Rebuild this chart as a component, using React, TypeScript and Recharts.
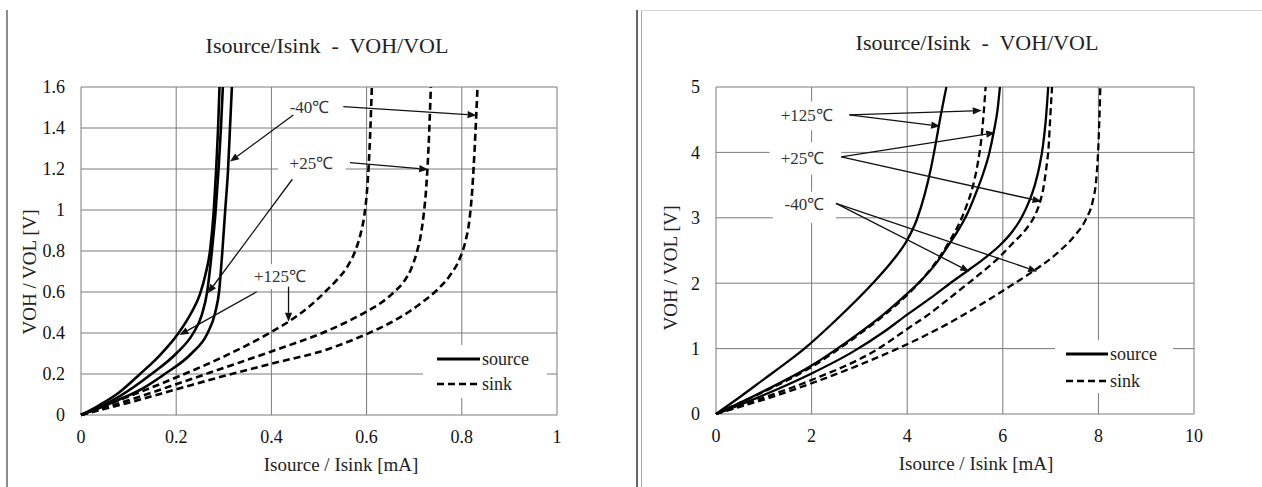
import React from 'react';
import {
  LineChart,
  Line,
  XAxis,
  YAxis,
  CartesianGrid,
  ReferenceArea,
  ReferenceDot,
  ReferenceLine,
} from 'recharts';

type Pt = [number, number];

const FONT = '"Liberation Serif", "Times New Roman", serif';

// ---- left chart: 0 .. 1 mA, 0 .. 1.6 V ----
const lowXTicks = [0, 0.2, 0.4, 0.6, 0.8, 1];
const lowYTicks = [0, 0.2, 0.4, 0.6, 0.8, 1, 1.2, 1.4, 1.6];

const lowSource125: Pt[] = [
  [0, 0], [0.04, 0.05], [0.08, 0.11], [0.124, 0.2], [0.165, 0.29], [0.205, 0.4],
  [0.232, 0.5], [0.25, 0.59], [0.262, 0.69], [0.271, 0.8], [0.279, 1.0],
  [0.284, 1.2], [0.288, 1.4], [0.291, 1.6],
];
const lowSource25: Pt[] = [
  [0, 0], [0.04, 0.04], [0.08, 0.09], [0.148, 0.2], [0.2, 0.3], [0.236, 0.4],
  [0.254, 0.49], [0.265, 0.6], [0.275, 0.8], [0.283, 1.0], [0.289, 1.2],
  [0.294, 1.4], [0.298, 1.6],
];
const lowSourceM40: Pt[] = [
  [0, 0], [0.04, 0.035], [0.08, 0.075], [0.13, 0.13], [0.176, 0.2], [0.232, 0.3],
  [0.266, 0.4], [0.282, 0.5], [0.29, 0.6], [0.297, 0.8], [0.303, 1.0],
  [0.309, 1.2], [0.313, 1.4], [0.317, 1.6],
];
const lowSink125: Pt[] = [
  [0, 0], [0.05, 0.045], [0.1, 0.09], [0.207, 0.19], [0.3, 0.285], [0.4, 0.405],
  [0.436, 0.455], [0.48, 0.53], [0.517, 0.61], [0.54, 0.665], [0.56, 0.725],
  [0.576, 0.8], [0.587, 0.88], [0.595, 0.97], [0.6, 1.07], [0.604, 1.2],
  [0.608, 1.4], [0.611, 1.6],
];
const lowSink25: Pt[] = [
  [0, 0], [0.05, 0.035], [0.1, 0.072], [0.2, 0.15], [0.3, 0.23], [0.4, 0.31],
  [0.517, 0.41], [0.555, 0.45], [0.6, 0.505], [0.632, 0.55], [0.658, 0.6],
  [0.678, 0.65], [0.693, 0.71], [0.705, 0.79], [0.714, 0.88], [0.72, 0.98],
  [0.725, 1.1], [0.73, 1.3], [0.735, 1.6],
];
const lowSinkM40: Pt[] = [
  [0, 0], [0.05, 0.03], [0.1, 0.06], [0.2, 0.125], [0.3, 0.19], [0.4, 0.25],
  [0.517, 0.32], [0.6, 0.395], [0.65, 0.45], [0.69, 0.505], [0.72, 0.555],
  [0.748, 0.61], [0.775, 0.68], [0.795, 0.76], [0.808, 0.85], [0.816, 0.95],
  [0.822, 1.1], [0.827, 1.3], [0.833, 1.6],
];

// ---- right chart: 0 .. 10 mA, 0 .. 5 V ----
const highXTicks = [0, 2, 4, 6, 8, 10];
const highYTicks = [0, 1, 2, 3, 4, 5];

const highSource125: Pt[] = [
  [0, 0], [0.5, 0.26], [1, 0.53], [1.5, 0.8], [1.85, 1.0], [2.5, 1.43],
  [3.28, 2.0], [3.7, 2.35], [4, 2.66], [4.2, 2.97], [4.37, 3.37], [4.5, 3.77],
  [4.6, 4.15], [4.69, 4.52], [4.77, 4.82], [4.82, 5],
];
const highSource25: Pt[] = [
  [0, 0], [0.5, 0.17], [1, 0.35], [2, 0.74], [2.5, 0.98], [3, 1.24], [3.5, 1.52],
  [4, 1.84], [4.3, 2.05], [4.6, 2.3], [4.9, 2.62], [5.1, 2.85], [5.25, 3.05],
  [5.45, 3.4], [5.6, 3.7], [5.72, 4.0], [5.82, 4.35], [5.89, 4.65], [5.94, 5],
];
const highSourceM40: Pt[] = [
  [0, 0], [0.5, 0.14], [1, 0.29], [2, 0.62], [2.86, 0.95], [3.5, 1.25], [4, 1.52],
  [4.5, 1.78], [4.9, 2.0], [5.3, 2.21], [5.65, 2.4], [5.94, 2.58], [6.2, 2.79],
  [6.39, 3.0], [6.55, 3.25], [6.67, 3.5], [6.77, 3.8], [6.84, 4.1], [6.9, 4.5],
  [6.95, 5],
];
const highSink125: Pt[] = [
  [0, 0], [0.5, 0.17], [1, 0.34], [2, 0.72], [2.5, 0.96], [3, 1.22], [3.5, 1.5],
  [4, 1.82], [4.3, 2.05], [4.6, 2.32], [4.9, 2.66], [5.1, 2.93], [5.25, 3.2],
  [5.38, 3.5], [5.48, 3.85], [5.55, 4.2], [5.6, 4.6], [5.64, 5],
];
const highSink25: Pt[] = [
  [0, 0], [0.5, 0.12], [1, 0.25], [2, 0.52], [3.4, 1.0], [4, 1.3], [4.5, 1.55],
  [4.9, 1.78], [5.45, 2.1], [5.9, 2.38], [6.22, 2.62], [6.5, 2.84], [6.66, 3.02],
  [6.77, 3.22], [6.85, 3.46], [6.91, 3.76], [6.96, 4.1], [6.99, 4.5], [7.03, 5],
];
const highSinkM40: Pt[] = [
  [0, 0], [0.5, 0.11], [1, 0.22], [2, 0.47], [3, 0.75], [3.8, 1.0], [4.9, 1.4],
  [5.6, 1.7], [6.25, 2.0], [6.67, 2.2], [7.2, 2.5], [7.52, 2.74], [7.74, 2.98],
  [7.88, 3.25], [7.95, 3.55], [7.99, 3.95], [8.02, 4.5], [8.04, 5],
];

interface Curve { name: string; pts: Pt[]; dashed: boolean }
interface Note { text: string; at: Pt; box: [number, number, number, number] }
interface Arrow { from: Pt; to: Pt }

const lowCurves: Curve[] = [
  { name: 'source +125', pts: lowSource125, dashed: false },
  { name: 'source +25', pts: lowSource25, dashed: false },
  { name: 'source -40', pts: lowSourceM40, dashed: false },
  { name: 'sink +125', pts: lowSink125, dashed: true },
  { name: 'sink +25', pts: lowSink25, dashed: true },
  { name: 'sink -40', pts: lowSinkM40, dashed: true },
];
const highCurves: Curve[] = [
  { name: 'source +125', pts: highSource125, dashed: false },
  { name: 'source +25', pts: highSource25, dashed: false },
  { name: 'source -40', pts: highSourceM40, dashed: false },
  { name: 'sink +125', pts: highSink125, dashed: true },
  { name: 'sink +25', pts: highSink25, dashed: true },
  { name: 'sink -40', pts: highSinkM40, dashed: true },
];

const lowNotes: Note[] = [
  { text: '-40℃', at: [0.48, 1.5], box: [0.405, 0.555, 1.43, 1.57] },
  { text: '+25℃', at: [0.484, 1.229], box: [0.414, 0.556, 1.16, 1.3] },
  { text: '+125℃', at: [0.418, 0.675], box: [0.338, 0.498, 0.615, 0.735] },
];
const lowArrows: Arrow[] = [
  { from: [0.446, 1.463], to: [0.313, 1.236] },
  { from: [0.551, 1.504], to: [0.831, 1.462] },
  { from: [0.444, 1.15], to: [0.2665, 0.594] },
  { from: [0.565, 1.231], to: [0.7295, 1.198] },
  { from: [0.369, 0.601], to: [0.207, 0.39] },
  { from: [0.436, 0.626], to: [0.436, 0.455] },
];

const highNotes: Note[] = [
  { text: '+125℃', at: [1.9, 4.56], box: [1.1, 2.7, 4.34, 4.78] },
  { text: '+25℃', at: [1.81, 3.91], box: [1.12, 2.62, 3.66, 4.16] },
  { text: '-40℃', at: [1.85, 3.2], box: [1.19, 2.51, 2.92, 3.4] },
];
const highArrows: Arrow[] = [
  { from: [2.79, 4.575], to: [5.56, 4.64] },
  { from: [2.79, 4.575], to: [4.69, 4.4] },
  { from: [2.62, 3.93], to: [5.84, 4.3] },
  { from: [2.62, 3.93], to: [6.81, 3.25] },
  { from: [2.51, 3.22], to: [5.3, 2.18] },
  { from: [2.51, 3.22], to: [6.72, 2.18] },
];

const toRows = (pts: Pt[]) => pts.map(([i, v]) => ({ i, v }));

const ArrowShape = (p: any) => {
  const { x1, y1, x2, y2 } = p;
  if ([x1, y1, x2, y2].some((n) => typeof n !== 'number')) return <g />;
  const ang = Math.atan2(y2 - y1, x2 - x1);
  const len = 9;
  const half = 3.6;
  const bx = x2 - len * Math.cos(ang);
  const by = y2 - len * Math.sin(ang);
  const ox = -Math.sin(ang) * half;
  const oy = Math.cos(ang) * half;
  return (
    <g>
      <line x1={x1} y1={y1} x2={bx} y2={by} stroke="#111" strokeWidth={1.3} />
      <polygon points={`${x2},${y2} ${bx + ox},${by + oy} ${bx - ox},${by - oy}`} fill="#111" />
    </g>
  );
};

const noteShape = (text: string) => (p: any) => (
  <text
    x={p.cx}
    y={p.cy}
    textAnchor="middle"
    dominantBaseline="central"
    fontFamily={FONT}
    fontSize={17}
    fill="#333"
  >
    {text}
  </text>
);

const tickStyle = { fill: '#111', fontSize: 18, fontFamily: FONT };

interface PanelProps {
  left: number;
  margin: { top: number; right: number; bottom: number; left: number };
  xDomain: [number, number];
  yDomain: [number, number];
  xTicks: number[];
  yTicks: number[];
  curves: Curve[];
  notes: Note[];
  arrows: Arrow[];
  lineW: number;
  legend: { left: number; top: number; w: number; h: number; x0: number; x1: number; r1: number; r2: number };
}

const Panel: React.FC<PanelProps> = ({
  left, margin, xDomain, yDomain, xTicks, yTicks, curves, notes, arrows, lineW, legend,
}) => {
  return (
    <div style={{ position: 'absolute', left, top: 0, width: 631, height: 487 }}>
      <LineChart width={631} height={487} margin={margin} style={{ fontFamily: FONT }}>
        <CartesianGrid stroke="#7a7a7a" strokeWidth={1} />
        <XAxis
          type="number"
          dataKey="i"
          domain={xDomain}
          ticks={xTicks}
          interval={0}
          axisLine={false}
          tickLine={false}
          tickMargin={9}
          height={30}
          fontSize={18}
          tick={tickStyle}
        />
        <YAxis
          type="number"
          dataKey="v"
          domain={yDomain}
          ticks={yTicks}
          interval={0}
          axisLine={false}
          tickLine={false}
          tickMargin={10}
          width={60}
          fontSize={18}
          tick={tickStyle}
        />
        {notes.map((n) => (
          <ReferenceArea
            key={'box' + n.text}
            x1={n.box[0]}
            x2={n.box[1]}
            y1={n.box[2]}
            y2={n.box[3]}
            fill="#fff"
            fillOpacity={1}
            stroke="none"
          />
        ))}
        {curves.map((c) => (
          <Line
            key={c.name}
            name={c.name}
            data={toRows(c.pts)}
            dataKey="v"
            type="monotone"
            stroke="#000"
            strokeWidth={lineW}
            strokeDasharray={c.dashed ? '7 4' : undefined}
            dot={false}
            activeDot={false}
            isAnimationActive={false}
          />
        ))}
        {arrows.map((a, k) => (
          <ReferenceLine
            key={'arrow' + k}
            segment={[{ x: a.from[0], y: a.from[1] }, { x: a.to[0], y: a.to[1] }]}
            shape={ArrowShape}
          />
        ))}
        {notes.map((n) => (
          <ReferenceDot key={'txt' + n.text} x={n.at[0]} y={n.at[1]} r={1} shape={noteShape(n.text)} />
        ))}
      </LineChart>
      <div
        style={{
          position: 'absolute',
          left: legend.left,
          top: legend.top,
          width: legend.w,
          height: legend.h,
          background: '#fff',
        }}
      >
        <svg width={legend.w} height={legend.h}>
          <line x1={legend.x0} x2={legend.x1} y1={legend.r1} y2={legend.r1} stroke="#000" strokeWidth={2.8} />
          <line
            x1={legend.x0}
            x2={legend.x1}
            y1={legend.r2}
            y2={legend.r2}
            stroke="#000"
            strokeWidth={2.6}
            strokeDasharray="7 4"
          />
          <text x={legend.x1 + 2} y={legend.r1} dominantBaseline="central" fontFamily={FONT} fontSize={18} fill="#222">
            source
          </text>
          <text x={legend.x1 + 2} y={legend.r2} dominantBaseline="central" fontFamily={FONT} fontSize={18} fill="#222">
            sink
          </text>
        </svg>
      </div>
    </div>
  );
};

const App: React.FC = () => {
  const title = 'Isource/Isink  -  VOH/VOL';
  return (
    <div style={{ position: 'absolute', left: 0, top: 0, width: 1262, height: 487, background: '#fff', overflow: 'hidden' }}>
      <style>{`.recharts-cartesian-axis-tick-value { font-family: ${FONT}; font-size: 18px; fill: #111; }`}</style>
      <div style={{ position: 'absolute', left: 6, top: 10, width: 1.5, height: 477, background: '#8c8c8c' }} />
      <div style={{ position: 'absolute', left: 636, top: 10, width: 1.5, height: 477, background: '#666' }} />
      <div style={{ position: 'absolute', left: 641, top: 10, width: 1, height: 477, background: '#aaa' }} />
      <div style={{ position: 'absolute', left: 641, top: 10, width: 621, height: 1, background: '#d4d4d4' }} />

      <Panel
        left={0}
        margin={{ top: 87, right: 74, bottom: 42, left: 21 }}
        xDomain={[0, 1]}
        yDomain={[0, 1.6]}
        xTicks={lowXTicks}
        yTicks={lowYTicks}
        curves={lowCurves}
        notes={lowNotes}
        arrows={lowArrows}
        lineW={2.6}
        legend={{ left: 423, top: 345, w: 124, h: 53, x0: 14, x1: 57, r1: 14, r2: 39 }}
      />
      <Panel
        left={631}
        margin={{ top: 87, right: 68, bottom: 43, left: 25 }}
        xDomain={[0, 10]}
        yDomain={[0, 5]}
        xTicks={highXTicks}
        yTicks={highYTicks}
        curves={highCurves}
        notes={highNotes}
        arrows={highArrows}
        lineW={2.3}
        legend={{ left: 424, top: 340, w: 118, h: 53, x0: 11, x1: 53, r1: 14, r2: 41 }}
      />

      <svg width={1262} height={487} style={{ position: 'absolute', left: 0, top: 0, pointerEvents: 'none' }}>
        <g fontFamily={FONT} fill="#222" textAnchor="middle">
          <text x={327} y={53} fontSize={22} xmlSpace="preserve">{title}</text>
          <text x={977} y={50} fontSize={22} xmlSpace="preserve">{title}</text>
          <text x={341} y={471} fontSize={19}>Isource / Isink [mA]</text>
          <text x={976} y={470} fontSize={19}>Isource / Isink [mA]</text>
          <text x={36} y={272} fontSize={19} transform="rotate(-90 36 272)">VOH / VOL [V]</text>
          <text x={677} y={268} fontSize={19} transform="rotate(-90 677 268)">VOH / VOL [V]</text>
        </g>
      </svg>
    </div>
  );
};

export default App;
